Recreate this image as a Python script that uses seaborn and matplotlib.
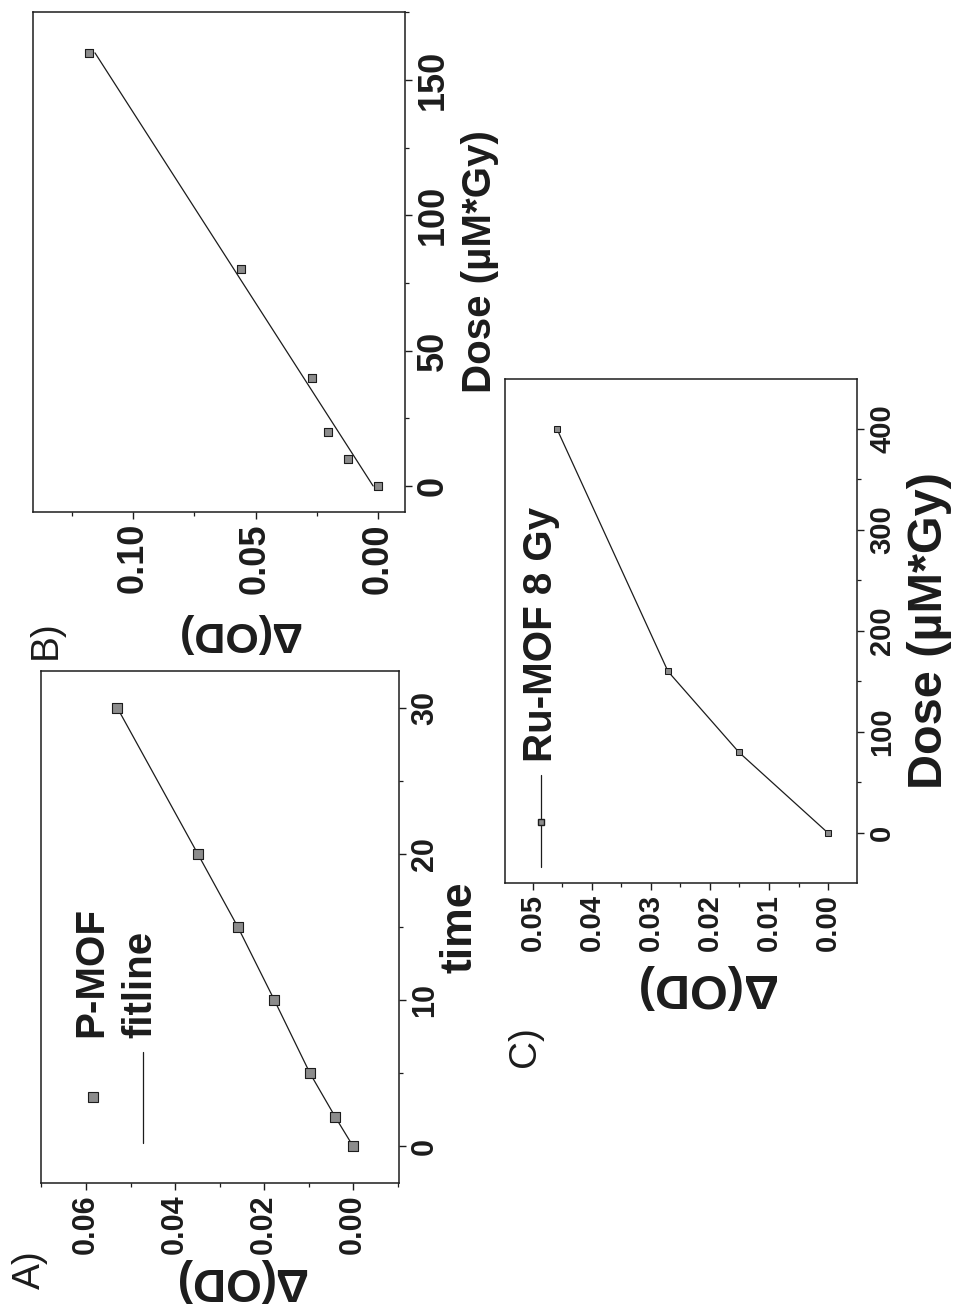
import numpy as np
import matplotlib
matplotlib.use('Agg')
import matplotlib.pyplot as plt
import seaborn as sns
from matplotlib.ticker import MultipleLocator, FormatStrFormatter

# A) P-MOF: dOD against irradiation time
time_a = [0, 2, 5, 10, 15, 20, 30]
od_a = [0.000, 0.0040, 0.0097, 0.0177, 0.0259, 0.0349, 0.0530]

# B) dOD against dose, with fit line
dose_b = [0, 10, 20, 40, 80, 160]
od_b = [0.000, 0.0122, 0.0204, 0.0269, 0.0559, 0.1178]
fit_dose_b = [0, 160]
fit_od_b = [0.002, 0.1155]

# C) Ru-MOF 8 Gy
dose_c = [0, 80, 160, 400]
od_c = [0.000, 0.0151, 0.0271, 0.0459]

sns.set_style('ticks')
plt.rcParams['font.family'] = ['Liberation Sans', 'DejaVu Sans']
plt.rcParams['font.weight'] = 'bold'
plt.rcParams['axes.labelweight'] = 'bold'
INK = '#1c1c1c'
MFACE = '#8c8c8c'

fig = plt.figure(figsize=(9.59, 13.06), dpi=100)
ax_b = fig.add_axes([0.0344, 0.608, 0.3879, 0.3828])
ax_a = fig.add_axes([0.0428, 0.0942, 0.3733, 0.392])
ax_c = fig.add_axes([0.5266, 0.3239, 0.367, 0.3859])


def style_axes(ax, xlim, ylim, xmaj, xmin, ymaj, ymin, fs):
    # the page is turned: dOD runs right-to-left, time/dose runs upward
    ax.set_xlim(*xlim)
    ax.set_ylim(*ylim)
    ax.xaxis.set_major_locator(MultipleLocator(xmaj))
    ax.xaxis.set_minor_locator(MultipleLocator(xmin))
    ax.yaxis.set_major_locator(MultipleLocator(ymaj))
    ax.yaxis.set_minor_locator(MultipleLocator(ymin))
    ax.xaxis.set_major_formatter(FormatStrFormatter('%.2f'))
    ax.yaxis.tick_right()
    ax.yaxis.set_label_position('right')
    for s in ax.spines.values():
        s.set_visible(True)
        s.set_color(INK)
        s.set_linewidth(1.1)
    ax.tick_params(which='major', direction='out', length=5, width=1, color=INK,
                   labelsize=fs, labelcolor=INK, pad=3)
    ax.tick_params(which='minor', direction='out', length=3, width=0.9, color=INK)
    ax.tick_params(axis='x', labelrotation=90)
    ax.tick_params(axis='y', labelrotation=90)
    plt.setp(ax.get_xticklabels(), ha='center', va='top', fontweight='bold')
    plt.setp(ax.get_yticklabels(), ha='left', va='center', fontweight='bold')


# ---- A ----
sns.lineplot(x=od_a, y=time_a, sort=False, estimator=None, color=INK, lw=0.9, ax=ax_a)
sns.scatterplot(x=od_a, y=time_a, marker='s', s=49, color=MFACE, edgecolor=INK,
                linewidth=0.8, ax=ax_a, zorder=3)
style_axes(ax_a, (0.0701, -0.0103), (-2.5, 32.5), 0.02, 0.01, 10, 5, 22)
ax_a.set_xlabel('Δ(OD)', fontsize=33, fontweight='bold', rotation=180,
                ha='center', va='center', color=INK)
ax_a.xaxis.set_label_coords(0.556, -0.19)
ax_a.set_ylabel('time', fontsize=32, fontweight='bold', rotation=90,
                ha='center', va='center', color=INK)
ax_a.yaxis.set_label_coords(1.17, 0.5)
# legend keys (drawn turned, like the page)
ax_a.plot([0.145], [0.168], transform=ax_a.transAxes, marker='s', ms=7, mfc=MFACE,
          mec=INK, mew=0.8, ls='none')
ax_a.plot([0.285, 0.285], [0.078, 0.256], transform=ax_a.transAxes, color=INK, lw=0.9)
ax_a.text(0.140, 0.285, 'P-MOF', transform=ax_a.transAxes, rotation=90, fontsize=29,
          fontweight='bold', ha='center', va='bottom', color=INK)
ax_a.text(0.277, 0.283, 'fitline', transform=ax_a.transAxes, rotation=90, fontsize=29,
          fontweight='bold', ha='center', va='bottom', color=INK)

# ---- B ----
sns.lineplot(x=fit_od_b, y=fit_dose_b, sort=False, estimator=None, color=INK, lw=0.9, ax=ax_b)
sns.scatterplot(x=od_b, y=dose_b, marker='s', s=30, color=MFACE, edgecolor=INK,
                linewidth=0.8, ax=ax_b, zorder=3)
style_axes(ax_b, (0.1408, -0.011), (-9.6, 175.1), 0.05, 0.025, 50, 25, 26)
ax_b.set_xlabel('Δ(OD)', fontsize=31, fontweight='bold', rotation=180,
                ha='center', va='center', color=INK)
ax_b.xaxis.set_label_coords(0.551, -0.242)
ax_b.set_ylabel('Dose (µM*Gy)', fontsize=29, fontweight='bold', rotation=90,
                ha='center', va='center', color=INK)
ax_b.yaxis.set_label_coords(1.202, 0.5)

# ---- C ----
sns.lineplot(x=od_c, y=dose_c, sort=False, estimator=None, color=INK, lw=0.9,
             marker='s', markersize=4, markerfacecolor=MFACE, markeredgecolor=INK, ax=ax_c)
style_axes(ax_c, (0.0547, -0.0049), (-49.5, 449.5), 0.01, 0.005, 100, 50, 21)
ax_c.set_xlabel('Δ(OD)', fontsize=35, fontweight='bold', rotation=180,
                ha='center', va='center', color=INK)
ax_c.xaxis.set_label_coords(0.568, -0.206)
ax_c.set_ylabel('Dose (µM*Gy)', fontsize=35, fontweight='bold', rotation=90,
                ha='center', va='center', color=INK)
ax_c.yaxis.set_label_coords(1.207, 0.5)
ax_c.plot([0.102, 0.102], [0.032, 0.214], transform=ax_c.transAxes, color=INK, lw=0.9)
ax_c.plot([0.102], [0.121], transform=ax_c.transAxes, marker='s', ms=4, mfc=MFACE,
          mec=INK, ls='none')
ax_c.text(0.102, 0.240, 'Ru-MOF 8 Gy', transform=ax_c.transAxes, rotation=90, fontsize=29,
          fontweight='bold', ha='center', va='bottom', color=INK)

# panel letters
for lab, x, y in [('A)', 0.031, 0.0276), ('B)', 0.048, 0.51), ('C)', 0.547, 0.199)]:
    fig.text(x, y, lab, rotation=90, fontsize=28, fontweight='normal',
             ha='center', va='center', color=INK)

fig.savefig('out.png', dpi=100)
